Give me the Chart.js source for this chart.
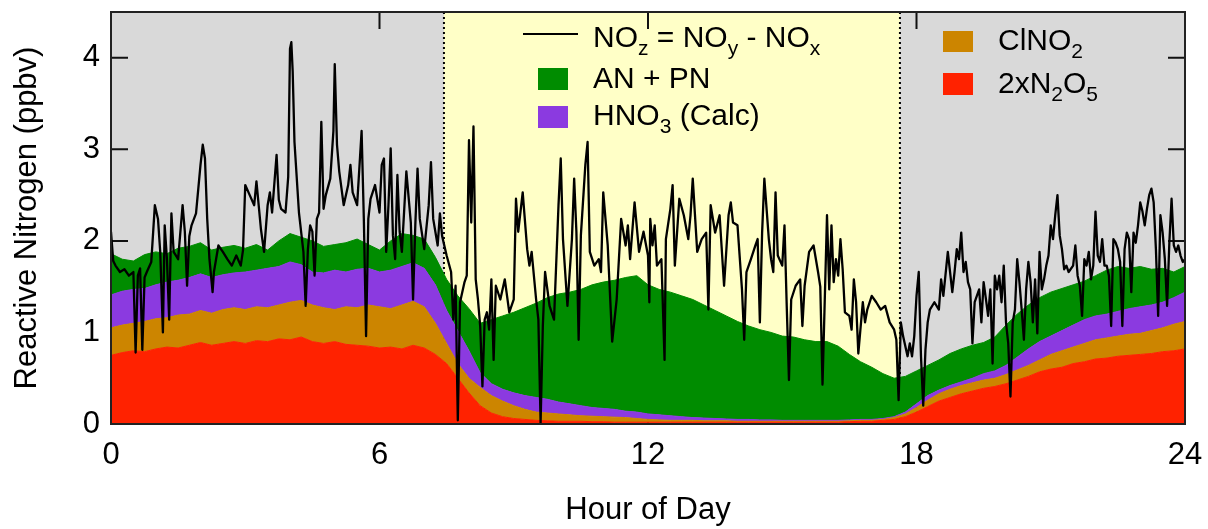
<!DOCTYPE html>
<html>
<head>
<meta charset="utf-8">
<script src="https://cdn.jsdelivr.net/npm/chart.js@4.4.1/dist/chart.umd.min.js"></script>
<style>
  html, body { margin: 0; padding: 0; background: #ffffff; }
</style>
</head>
<body>
<canvas id="chart" width="1208" height="529"></canvas>
<script>
// Values (hour of day, ppbv)
const xTicks = [0, 6, 12, 18, 24];
const yTicks = [0, 1, 2, 3, 4];
const dayStart = 7.44;
const dayEnd = 17.63;

const areaHours = [
  0, 0.25, 0.5, 0.75, 1, 1.25, 1.5, 1.75,
  2, 2.25, 2.5, 2.75, 3, 3.25, 3.5, 3.75,
  4, 4.25, 4.5, 4.75, 5, 5.25, 5.5, 5.75,
  6, 6.25, 6.5, 6.75, 7, 7.25, 7.5, 7.75,
  8, 8.25, 8.5, 8.75, 9, 9.25, 9.5, 9.75,
  10, 10.25, 10.5, 10.75, 11, 11.25, 11.5, 11.75,
  12, 12.25, 12.5, 12.75, 13, 13.25, 13.5, 13.75,
  14, 14.25, 14.5, 14.75, 15, 15.25, 15.5, 15.75,
  16, 16.25, 16.5, 16.75, 17, 17.25, 17.5, 17.75,
  18, 18.25, 18.5, 18.75, 19, 19.25, 19.5, 19.75,
  20, 20.25, 20.5, 20.75, 21, 21.25, 21.5, 21.75,
  22, 22.25, 22.5, 22.75, 23, 23.25, 23.5, 23.75,
  24
];

// cumulative tops of each stacked band
const n2o5Top = [
  0.75, 0.78, 0.80, 0.79, 0.82, 0.84, 0.83, 0.86,
  0.89, 0.86, 0.88, 0.90, 0.88, 0.91, 0.90, 0.93,
  0.92, 0.95, 0.90, 0.88, 0.90, 0.87, 0.86, 0.85,
  0.83, 0.84, 0.82, 0.86, 0.83, 0.76, 0.66, 0.50,
  0.34, 0.20, 0.12, 0.08, 0.06, 0.05, 0.04, 0.035,
  0.03, 0.03, 0.03, 0.025, 0.025, 0.02, 0.02, 0.02,
  0.02, 0.02, 0.02, 0.02, 0.02, 0.02, 0.02, 0.02,
  0.02, 0.02, 0.02, 0.02, 0.02, 0.02, 0.02, 0.02,
  0.02, 0.02, 0.025, 0.03, 0.03, 0.04, 0.05, 0.08,
  0.13, 0.19, 0.25, 0.29, 0.33, 0.36, 0.39, 0.41,
  0.44, 0.48, 0.52, 0.57, 0.60, 0.62, 0.66, 0.68,
  0.71, 0.72, 0.74, 0.75, 0.76, 0.77, 0.79, 0.80,
  0.82
];
const clno2Top = [
  1.05, 1.08, 1.10, 1.12, 1.15, 1.16, 1.19, 1.20,
  1.24, 1.21, 1.25, 1.27, 1.25, 1.28, 1.27, 1.30,
  1.33, 1.35, 1.30, 1.27, 1.25, 1.28, 1.27, 1.30,
  1.28, 1.26, 1.30, 1.34, 1.28, 1.10, 0.88, 0.66,
  0.50, 0.40, 0.31, 0.25, 0.20, 0.16, 0.13, 0.12,
  0.11, 0.10, 0.09, 0.085, 0.08, 0.075, 0.07, 0.06,
  0.05, 0.045, 0.04, 0.04, 0.04, 0.035, 0.035, 0.035,
  0.03, 0.03, 0.03, 0.03, 0.03, 0.03, 0.03, 0.03,
  0.03, 0.03, 0.035, 0.04, 0.04, 0.05, 0.07, 0.11,
  0.18, 0.26, 0.33, 0.38, 0.42, 0.45, 0.48, 0.50,
  0.54, 0.59, 0.64, 0.70, 0.76, 0.80, 0.84, 0.88,
  0.92, 0.94, 0.96, 0.98, 0.99, 1.02, 1.05, 1.09,
  1.12
];
const hno3Top = [
  1.41, 1.45, 1.47, 1.48, 1.52, 1.55, 1.57, 1.60,
  1.64, 1.60, 1.63, 1.65, 1.66, 1.68, 1.70, 1.72,
  1.77, 1.74, 1.66, 1.65, 1.68, 1.66, 1.69, 1.70,
  1.66, 1.68, 1.72, 1.76, 1.70, 1.52, 1.24, 1.02,
  0.80, 0.56, 0.44, 0.38, 0.34, 0.31, 0.29, 0.27,
  0.24, 0.22, 0.20, 0.18, 0.17, 0.16, 0.14, 0.13,
  0.11, 0.10, 0.09, 0.08, 0.07, 0.065, 0.06, 0.055,
  0.05, 0.05, 0.045, 0.045, 0.04, 0.04, 0.04, 0.04,
  0.04, 0.04, 0.045, 0.05, 0.05, 0.06, 0.08, 0.13,
  0.22, 0.31, 0.37, 0.42, 0.46, 0.50, 0.55, 0.58,
  0.64, 0.73, 0.82, 0.90, 0.96, 1.02, 1.08, 1.14,
  1.18, 1.20, 1.23, 1.26, 1.28, 1.30, 1.33, 1.38,
  1.44
];
const anpnTop = [
  1.86, 1.80, 1.78, 1.85, 1.88, 1.86, 1.92, 1.94,
  1.98, 1.90, 1.93, 1.95, 1.92, 1.96, 1.90, 2.00,
  2.08, 2.04, 2.00, 1.94, 1.96, 1.98, 2.02, 1.96,
  1.90, 2.00, 2.08, 2.06, 2.02, 1.82, 1.58, 1.40,
  1.26, 1.10, 1.14, 1.18, 1.22, 1.27, 1.32, 1.38,
  1.42, 1.44, 1.47, 1.52, 1.55, 1.57, 1.60, 1.62,
  1.52, 1.47, 1.44, 1.40, 1.36, 1.30, 1.24, 1.18,
  1.12, 1.07, 1.03, 1.00, 0.96, 0.95, 0.92, 0.90,
  0.90, 0.85, 0.76, 0.68, 0.62, 0.55, 0.50, 0.52,
  0.58, 0.64, 0.70, 0.77, 0.82, 0.86, 0.89, 0.95,
  1.08, 1.20, 1.30, 1.38, 1.44, 1.48, 1.52, 1.56,
  1.62, 1.68, 1.72, 1.70, 1.72, 1.69, 1.70, 1.66,
  1.72
];

// NOz = NOy - NOx, one row per hour
const nozHours = [
  0, 0.05, 0.1, 0.2, 0.3, 0.4, 0.5, 0.55, 0.6, 0.65, 0.7, 0.75, 0.8, 0.9, 0.98,
  1.05, 1.1, 1.16, 1.2, 1.25, 1.3, 1.35, 1.4, 1.5, 1.6, 1.65, 1.7, 1.75, 1.8, 1.9,
  2.0, 2.05, 2.1, 2.15, 2.2, 2.27, 2.3, 2.4, 2.5, 2.6, 2.7, 2.8, 2.9, 2.95,
  3.0, 3.1, 3.2, 3.25, 3.3, 3.35, 3.42, 3.5, 3.55, 3.6, 3.7, 3.75, 3.8, 3.9, 3.96,
  4.0, 4.03, 4.06, 4.1, 4.2, 4.3, 4.35, 4.4, 4.45, 4.5, 4.55, 4.6, 4.65, 4.7, 4.75, 4.8, 4.9, 4.97,
  5.0, 5.05, 5.1, 5.2, 5.3, 5.35, 5.4, 5.5, 5.6, 5.65, 5.7, 5.75, 5.8, 5.9,
  6.0, 6.05, 6.1, 6.15, 6.2, 6.25, 6.3, 6.35, 6.4, 6.45, 6.5, 6.6, 6.7, 6.75, 6.8, 6.85, 6.9,
  7.0, 7.1, 7.15, 7.2, 7.3, 7.35, 7.4, 7.5, 7.6, 7.65, 7.7, 7.75, 7.8, 7.9, 7.95,
  8.0, 8.05, 8.1, 8.15, 8.2, 8.25, 8.3, 8.35, 8.4, 8.45, 8.5, 8.55, 8.6, 8.7, 8.8, 8.9,
  9.0, 9.05, 9.1, 9.2, 9.3, 9.35, 9.4, 9.5, 9.55, 9.6, 9.65, 9.7, 9.8, 9.9,
  10.0, 10.05, 10.1, 10.2, 10.3, 10.35, 10.4, 10.45, 10.5, 10.6, 10.65, 10.7, 10.8, 10.9, 10.95,
  11.0, 11.1, 11.2, 11.3, 11.4, 11.5, 11.55, 11.6, 11.7, 11.8, 11.9,
  12.0, 12.03, 12.05, 12.1, 12.15, 12.2, 12.3, 12.37, 12.4, 12.5, 12.55, 12.6, 12.7, 12.8, 12.9, 12.95,
  13.0, 13.1, 13.2, 13.3, 13.35, 13.4, 13.5, 13.6, 13.7, 13.8, 13.85, 13.9,
  14.0, 14.1, 14.15, 14.2, 14.3, 14.4, 14.45, 14.5, 14.55, 14.6, 14.7, 14.75, 14.8, 14.85, 14.9,
  15.0, 15.05, 15.1, 15.15, 15.2, 15.3, 15.4, 15.45, 15.5, 15.6, 15.7, 15.8, 15.85, 15.9,
  16.0, 16.05, 16.1, 16.15, 16.2, 16.25, 16.3, 16.35, 16.4, 16.5, 16.55, 16.6, 16.65, 16.7, 16.8, 16.85, 16.9,
  17.0, 17.1, 17.2, 17.3, 17.4, 17.5, 17.55, 17.6, 17.65, 17.7, 17.8, 17.85, 17.9, 17.95,
  18.0, 18.05, 18.1, 18.15, 18.2, 18.25, 18.3, 18.4, 18.5, 18.55, 18.6, 18.7, 18.8, 18.85, 18.9, 18.95,
  19.0, 19.05, 19.1, 19.15, 19.2, 19.25, 19.3, 19.4, 19.45, 19.5, 19.55, 19.6, 19.65, 19.7, 19.75, 19.8, 19.85, 19.9, 19.95,
  20.0, 20.05, 20.1, 20.15, 20.2, 20.25, 20.3, 20.35, 20.4, 20.45, 20.5, 20.55, 20.6, 20.65, 20.7, 20.75, 20.8, 20.85, 20.9, 20.95,
  21.0, 21.05, 21.1, 21.15, 21.2, 21.25, 21.3, 21.35, 21.4, 21.5, 21.55, 21.6, 21.65, 21.7, 21.75, 21.8, 21.85, 21.9, 21.95,
  22.0, 22.05, 22.1, 22.15, 22.2, 22.25, 22.3, 22.35, 22.4, 22.45, 22.5, 22.55, 22.6, 22.65, 22.7, 22.75, 22.8, 22.85, 22.9, 22.95,
  23.0, 23.05, 23.1, 23.15, 23.2, 23.25, 23.3, 23.35, 23.4, 23.45, 23.5, 23.55, 23.6, 23.65, 23.7, 23.75, 23.8, 23.85, 23.9, 23.95, 24.0
];
const nozValues = [
  2.10, 1.78, 1.73, 1.66, 1.69, 1.62, 1.66, 0.78, 1.62, 1.70, 0.81, 1.60, 1.66, 1.77, 2.39,
  2.24, 1.88, 1.00, 2.17, 1.80, 1.14, 2.30, 1.88, 1.80, 2.39, 2.10, 1.51, 2.05, 2.17, 2.30,
  2.83, 3.05, 2.90, 2.24, 1.80, 1.44, 1.66, 1.95, 1.88, 1.80, 1.73, 1.84, 1.73, 1.90,
  2.61, 2.50, 2.39, 2.65, 2.39, 2.13, 1.88, 2.39, 2.53, 2.31, 2.94, 2.45, 2.35, 2.31, 2.70,
  4.10, 4.17, 3.85, 3.08, 2.31, 1.88, 1.29, 1.91, 2.17, 2.10, 1.62, 2.24, 2.31, 3.30, 2.35, 2.50, 2.68, 3.20,
  3.93, 3.05, 2.76, 2.39, 2.61, 2.83, 2.53, 2.39, 3.20, 2.24, 0.96, 2.24, 2.46, 2.61,
  2.31, 2.83, 2.90, 1.88, 2.39, 3.01, 2.06, 1.80, 2.72, 2.10, 1.88, 2.76, 2.20, 1.36, 2.17, 2.79, 2.24,
  1.91, 2.39, 2.86, 2.24, 1.95, 2.30, 2.05, 1.84, 1.66, 1.14, 1.51, 0.04, 1.33, 1.55, 1.62,
  3.10, 2.20, 3.25, 1.58, 1.36, 1.07, 0.41, 1.14, 1.22, 1.03, 1.58, 0.70, 1.51, 1.36, 1.58, 1.22,
  1.36, 2.46, 2.10, 2.53, 1.91, 1.73, 1.88, 1.36, 1.14, 0.01, 1.07, 1.66, 1.29, 1.14,
  2.39, 2.90, 2.02, 1.29, 2.02, 2.68, 2.10, 0.92, 2.06, 2.83, 3.08, 1.88, 1.73, 1.80, 1.66,
  2.53, 1.95, 0.90, 1.36, 2.24, 1.95, 2.17, 1.80, 2.42, 1.88, 2.10,
  1.84, 1.33, 2.24, 1.95, 2.17, 1.73, 1.80, 0.70, 2.02, 2.35, 2.61, 1.73, 2.46, 2.28, 2.02, 2.28,
  2.68, 1.88, 2.02, 2.09, 1.25, 2.39, 2.09, 2.28, 1.51, 2.28, 2.42, 2.20,
  2.17, 1.47, 0.92, 1.66, 1.80, 1.95, 2.02, 1.11, 2.09, 2.68, 2.02, 1.80, 1.66, 2.53, 1.84,
  1.73, 2.17, 1.29, 0.48, 1.36, 1.51, 1.58, 1.07, 1.51, 1.88, 1.95, 1.66, 1.50, 0.43,
  2.28, 1.47, 2.17, 1.55, 1.80, 1.62, 2.02, 1.69, 1.22, 1.18, 1.03, 1.58, 1.33, 0.77, 1.33, 1.11, 1.25,
  1.40, 1.33, 1.25, 1.29, 1.11, 1.03, 0.92, 0.26, 1.11, 0.96, 0.74, 0.88, 0.74, 0.96,
  1.40, 1.66, 0.74, 0.20, 0.81, 1.11, 1.25, 1.33, 1.25, 1.58, 1.40, 1.88, 1.44, 1.66, 1.91, 1.80,
  2.09, 1.66, 1.77, 1.55, 1.47, 0.88, 1.33, 1.47, 1.11, 1.55, 1.37, 1.18, 1.47, 0.66, 1.62, 1.47, 1.62, 1.33, 1.73,
  1.11, 0.88, 0.30, 1.11, 1.25, 1.80, 1.55, 1.25, 0.92, 1.47, 1.77, 1.55, 1.11, 1.58, 0.99, 1.88, 1.47, 1.58, 1.73, 1.84,
  2.17, 2.02, 2.28, 2.50, 2.06, 1.91, 1.69, 1.73, 1.66, 1.73, 1.95, 1.62, 1.51, 1.18, 1.80, 1.73, 1.88, 1.58, 1.73,
  2.32, 1.84, 1.77, 2.02, 1.73, 1.73, 1.62, 1.07, 2.02, 1.98, 1.91, 1.77, 1.07, 1.91, 2.09, 2.02, 1.44, 2.09, 1.98, 2.17,
  2.42, 2.32, 2.17, 2.35, 2.50, 2.57, 2.42, 1.91, 1.18, 2.28, 2.09, 1.80, 1.29, 1.98, 2.46, 1.95, 1.88, 1.95, 1.84, 1.77, 1.80
];

const FONT = "'Liberation Sans', Arial, Helvetica, sans-serif";
const colors = {
  n2o5: '#ff2200',
  clno2: '#cc8500',
  hno3: '#8b3ae0',
  anpn: '#008c00',
  night: '#d9d9d9',
  day: '#ffffc7'
};

const pts = (xs, ys) => xs.map((h, i) => ({ x: h, y: ys[i] }));

function band(label, values, color, fill) {
  return {
    label: label,
    data: pts(areaHours, values),
    borderColor: color,
    backgroundColor: color,
    borderWidth: 1,
    pointRadius: 0,
    tension: 0,
    fill: fill
  };
}

// the plot box is pinned: no extra room for half tick labels
function pinScale(s, size) {
  if (s.isHorizontal()) s.height = size; else s.width = size;
  s.paddingTop = 0;
  s.paddingBottom = 0;
  s.paddingLeft = 0;
  s.paddingRight = 0;
}

// draw a label with subscripts: parts = [[text, isSub], ...]
function richText(ctx, x, y, parts) {
  parts.forEach(([t, sub]) => {
    ctx.font = (sub ? '21px ' : '30px ') + FONT;
    ctx.fillText(t, x, sub ? y + 8 : y);
    x += ctx.measureText(t).width;
  });
}

const figurePlugin = {
  id: 'figure',
  beforeDatasetsDraw(chart) {
    const { ctx, chartArea: a, scales: { x, y } } = chart;
    ctx.save();
    ctx.fillStyle = colors.night;
    ctx.fillRect(a.left, a.top, a.right - a.left, a.bottom - a.top);
    const d0 = x.getPixelForValue(dayStart);
    const d1 = x.getPixelForValue(dayEnd);
    ctx.fillStyle = colors.day;
    ctx.fillRect(d0, a.top, d1 - d0, a.bottom - a.top);

    ctx.strokeStyle = '#000';
    ctx.lineWidth = 2;
    ctx.setLineDash([2, 3]);
    [d0, d1].forEach(px => {
      ctx.beginPath();
      ctx.moveTo(px, a.top);
      ctx.lineTo(px, a.bottom);
      ctx.stroke();
    });

    // inward tick marks on all four sides
    ctx.setLineDash([]);
    ctx.strokeStyle = '#111';
    const tl = 17;
    yTicks.forEach(v => {
      const py = y.getPixelForValue(v);
      ctx.beginPath();
      ctx.moveTo(a.left, py); ctx.lineTo(a.left + tl, py);
      ctx.moveTo(a.right, py); ctx.lineTo(a.right - tl, py);
      ctx.stroke();
    });
    xTicks.forEach(v => {
      const px = x.getPixelForValue(v);
      ctx.beginPath();
      ctx.moveTo(px, a.top); ctx.lineTo(px, a.top + tl);
      ctx.moveTo(px, a.bottom); ctx.lineTo(px, a.bottom - tl);
      ctx.stroke();
    });
    ctx.restore();
  },
  afterDatasetsDraw(chart) {
    const { ctx, chartArea: a } = chart;
    ctx.save();
    ctx.strokeStyle = '#222';
    ctx.lineWidth = 2;
    ctx.strokeRect(a.left, a.top, a.right - a.left, a.bottom - a.top);
    ctx.restore();
  },
  afterDraw(chart) {
    const ctx = chart.ctx;
    ctx.save();
    ctx.fillStyle = '#000';
    ctx.textBaseline = 'alphabetic';
    ctx.textAlign = 'left';

    // left legend block
    ctx.strokeStyle = '#000';
    ctx.lineWidth = 2;
    ctx.beginPath();
    ctx.moveTo(523, 34); ctx.lineTo(578, 34);
    ctx.stroke();
    richText(ctx, 593, 47, [['NO'], ['z', true], [' = NO'], ['y', true], [' - NO'], ['x', true]]);

    ctx.fillStyle = colors.anpn;
    ctx.fillRect(538, 68, 30, 22);
    ctx.fillStyle = '#000';
    richText(ctx, 593, 88, [['AN + PN']]);

    ctx.fillStyle = colors.hno3;
    ctx.fillRect(538, 106, 30, 22);
    ctx.fillStyle = '#000';
    richText(ctx, 593, 125, [['HNO'], ['3', true], [' (Calc)']]);

    // right legend block
    ctx.fillStyle = colors.clno2;
    ctx.fillRect(943, 31, 30, 21);
    ctx.fillStyle = '#000';
    richText(ctx, 998, 50, [['ClNO'], ['2', true]]);

    ctx.fillStyle = colors.n2o5;
    ctx.fillRect(943, 73, 30, 22);
    ctx.fillStyle = '#000';
    richText(ctx, 998, 93, [['2xN'], ['2', true], ['O'], ['5', true]]);
    ctx.restore();
  }
};

new Chart(document.getElementById('chart'), {
  type: 'line',
  data: {
    datasets: [
      {
        label: 'NOz = NOy - NOx',
        data: pts(nozHours, nozValues),
        borderColor: '#000',
        borderWidth: 2.3,
        borderJoinStyle: 'round',
        pointRadius: 0,
        tension: 0,
        fill: false
      },
      band('2xN2O5', n2o5Top, colors.n2o5, 'origin'),
      band('ClNO2', clno2Top, colors.clno2, '-1'),
      band('HNO3 (Calc)', hno3Top, colors.hno3, '-1'),
      band('AN + PN', anpnTop, colors.anpn, '-1')
    ]
  },
  options: {
    responsive: false,
    animation: false,
    layout: { padding: { top: 12, right: 23, left: 0, bottom: 0 } },
    plugins: {
      legend: { display: false },
      tooltip: { enabled: false }
    },
    scales: {
      x: {
        type: 'linear',
        min: 0,
        max: 24,
        afterBuildTicks: s => { s.ticks = xTicks.map(v => ({ value: v })); },
        afterFit: s => pinScale(s, 105),
        grid: { display: false, drawTicks: false },
        border: { display: false },
        ticks: {
          color: '#000',
          padding: 13,
          maxRotation: 0,
          font: { family: FONT, size: 31 }
        },
        title: {
          display: true,
          text: 'Hour of Day',
          color: '#000',
          padding: { top: 0, bottom: 0 },
          font: { family: FONT, size: 31 }
        }
      },
      y: {
        type: 'linear',
        min: 0,
        max: 4.5,
        afterBuildTicks: s => { s.ticks = yTicks.map(v => ({ value: v })); },
        afterFit: s => pinScale(s, 111),
        grid: { display: false, drawTicks: false },
        border: { display: false },
        ticks: {
          color: '#000',
          padding: 11,
          font: { family: FONT, size: 31 }
        },
        title: {
          display: true,
          text: 'Reactive Nitrogen (ppbv)',
          color: '#000',
          padding: { top: 9, bottom: 0 },
          font: { family: FONT, size: 31 }
        }
      }
    }
  },
  plugins: [figurePlugin]
});
</script>
</body>
</html>
